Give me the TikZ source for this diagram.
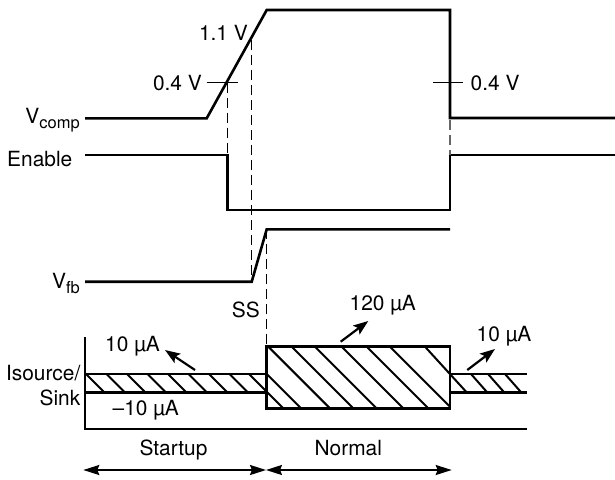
\documentclass[tikz,border=0pt]{standalone}
\usepackage{fontspec}
\setmainfont{TeX Gyre Heros}
\usetikzlibrary{arrows.meta}
\newcommand\subtxt[1]{\raisebox{-5pt}{\fontsize{16.5}{17}\selectfont #1}}
\begin{document}
\begin{tikzpicture}[x=1pt,y=-1pt,
  wave/.style={line width=2.6pt, line join=miter},
  tick/.style={line width=1pt},
  dsh/.style={line width=1.2pt, dash pattern=on 10pt off 5pt},
  hatchline/.style={line width=2pt},
  lbl/.style={inner sep=0pt, font=\fontsize{20.9}{24}\selectfont},
  curarrow/.style={line width=2.2pt, -{Stealth[length=15pt,width=11pt,inset=3pt]}},
  spanarrow/.style={line width=2pt, {Stealth[length=16pt,width=10pt,inset=2pt]}-{Stealth[length=16pt,width=10pt,inset=2pt]}}
]
\useasboundingbox (0,0) rectangle (615,479);

% ---------- coordinates ----------
\coordinate (vc0) at (85,118.3);
\coordinate (vc1) at (206.7,118.3);
\coordinate (vc2) at (266.7,10);
\coordinate (vc3) at (450,10);
\coordinate (vc4) at (450,118);
\coordinate (vc5) at (615,118);

\coordinate (en0) at (85,155);
\coordinate (en1) at (227.2,155);
\coordinate (en2) at (227.2,210);
\coordinate (en3) at (450,210);
\coordinate (en4) at (450,155);
\coordinate (en5) at (615,155);

\coordinate (fb0) at (85,281.7);
\coordinate (fb1) at (251.7,281.7);
\coordinate (fb2) at (266.7,229.3);
\coordinate (fb3) at (450,229.3);

% ---------- waveforms ----------
\draw[wave] (vc0) -- (vc1) -- (vc2) -- (vc3) -- (vc4) -- (vc5);
\draw[wave] (en0) -- (en1) -- (en2) -- (en3) -- (en4) -- (en5);
\draw[wave] (fb0) -- (fb1) -- (fb2) -- (fb3);

% ---------- dashed markers ----------
\coordinate (d1a) at (227.2,82.7);
\coordinate (d2a) at (251.7,40);
\coordinate (d3b) at (266.7,346.7);
\coordinate (d4a) at (450,120);
\draw[dsh] (d1a) -- (en1);
\draw[dsh] (d2a) -- (fb1);
\draw[dsh] (fb2) -- (d3b);
\draw[dsh, black!60] (d4a) -- (en4);

% ---------- ticks ----------
\coordinate (t1a) at (206.7,82.7);
\coordinate (t1b) at (238,82.7);
\coordinate (t2a) at (433,82.7);
\coordinate (t2b) at (463,82.7);
\draw[tick] (t1a) -- (t1b);
\draw[tick] (t2a) -- (t2b);

% ---------- labels ----------
\node[lbl, anchor=base east] (l11) at (248,40.7) {1.1 V};
\node[lbl, anchor=base east] (l04a) at (202,90.7) {0.4 V};
\node[lbl, anchor=base west] (l04b) at (470.5,90.7) {0.4 V};
\node[lbl, anchor=base east] (lvc) at (80,123.3) {V\subtxt{comp}};
\node[lbl, anchor=base west] (len) at (7,166.7) {Enable};
\node[lbl, anchor=base east] (lvf) at (80,288.3) {V\subtxt{fb}};
\node[lbl, anchor=base east] (lss) at (260,317.3) {SS};

% ---------- current section ----------
\coordinate (ax0) at (85,337);
\coordinate (ax1) at (85,429);
\coordinate (ax2) at (526.7,429);
\draw[wave] (ax0) -- (ax1) -- (ax2);

\begin{scope}
  \clip (85,374) -- (266.7,374) -- (266.7,346.7) -- (450,346.7) -- (450,374)
        -- (526.7,374) -- (526.7,392.7) -- (450,392.7) -- (450,408.3)
        -- (266.7,408.3) -- (266.7,392.3) -- (85,392.3) -- cycle;
  % startup band hatching
  \foreach \t in {86,106.5,127,147.5,168,188.5,209,229.5,249}
    \draw[hatchline] (\t,374) -- ++(34.3,34.3);
  \draw[hatchline] (266.7,374) -- ++(34.3,34.3);
  % normal band hatching
  \foreach \t in {268.3,291.7,315,341.7,366.7,390}
    \draw[hatchline] (\t,346.7) -- ++(61.6,61.6);
  \draw[hatchline] (425,346.7) -- (467,392.7);
  % right band hatching
  \foreach \t in {471,488,505}
    \draw[hatchline] (\t,374) -- ++(16.5,18.7);
\end{scope}

\coordinate (sb0) at (85,374);
\coordinate (sb1) at (266.7,374);
\coordinate (sb2) at (85,392.3);
\coordinate (sb3) at (266.7,392.3);
\draw[wave] (sb0) -- (sb1);
\draw[wave] (sb2) -- (sb3);
\coordinate (nb0) at (266.7,346.7);
\coordinate (nb1) at (450,408.3);
\draw[wave] (nb0) rectangle (nb1);
\coordinate (rb0) at (450,374);
\coordinate (rb1) at (526.7,374);
\coordinate (rb2) at (450,392.7);
\coordinate (rb3) at (526.7,392.7);
\draw[wave] (rb0) -- (rb1);
\draw[wave] (rb2) -- (rb3);

% current arrows
\coordinate (a1t) at (195,370);
\coordinate (a1h) at (165,350);
\coordinate (a2t) at (340.7,341.7);
\coordinate (a2h) at (368.3,321);
\coordinate (a3t) at (467.3,370);
\coordinate (a3h) at (495,349);
\draw[curarrow] (a1t) -- (a1h);
\draw[curarrow] (a2t) -- (a2h);
\draw[curarrow] (a3t) -- (a3h);

\node[lbl, anchor=base west] (i1) at (105,351.7) {10 µA};
\node[lbl, anchor=base west] (i2) at (112.5,415.7) {–10 µA};
\node[lbl, anchor=base west] (i3) at (349.5,310) {120 µA};
\node[lbl, anchor=base west] (i4) at (476.5,341) {10 µA};
\node[lbl, anchor=base east] (is1) at (80.5,380.7) {Isource/};
\node[lbl, anchor=base east] (is2) at (80.5,405) {Sink};

% phases
\node[lbl, anchor=base] (ph1) at (173.5,455) {Startup};
\node[lbl, anchor=base] (ph2) at (348.3,455) {Normal};
\coordinate (p0) at (83.3,470);
\coordinate (p1) at (266,470);
\coordinate (p2) at (451.7,470);
\draw[spanarrow] (p0) -- (p1);
\draw[spanarrow] (p1) -- (p2);
\end{tikzpicture}
\end{document}
